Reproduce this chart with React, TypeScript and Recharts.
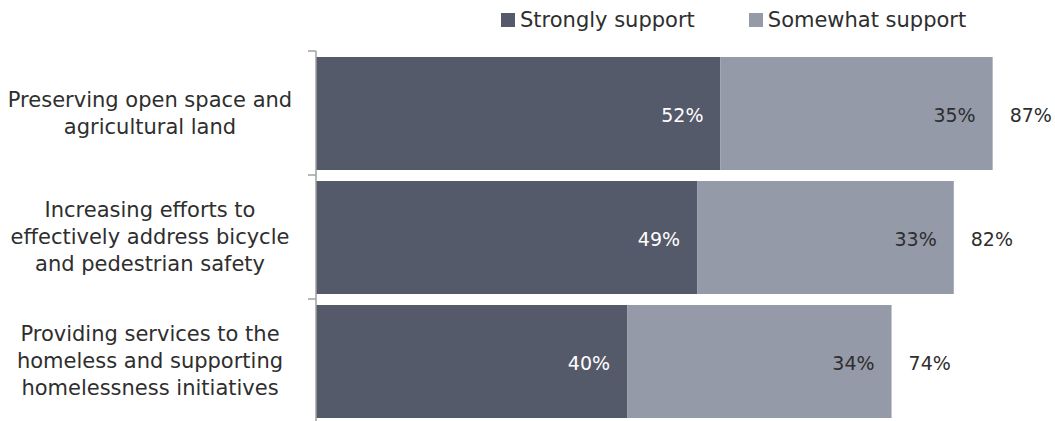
import React from "react";
import { BarChart, Bar, XAxis, YAxis, Legend, LabelList } from "recharts";

const categories = [
  "Preserving open space and\nagricultural land",
  "Increasing efforts to\neffectively address bicycle\nand pedestrian safety",
  "Providing services to the\nhomeless and supporting\nhomelessness initiatives",
];
const stronglySupport = [52, 49, 40];
const somewhatSupport = [35, 33, 34];
const totalSupport = [87, 82, 74];
const seriesNames = ["Strongly support", "Somewhat support"];

const DARK = "#555a6a";
const LIGHT = "#959aa9";
const TEXT = "#2e2e2e";
const AXIS = "#a0a0a0";
const FONT = "'DejaVu Sans', Verdana, sans-serif";
const TICK = 8;

const data = categories.map((name, i) => ({
  name,
  strong: stronglySupport[i],
  somewhat: somewhatSupport[i],
  total: totalSupport[i],
}));

const CategoryTick = (props: any) => {
  const { x, y, payload, index } = props;
  const lines = String(payload.value).split("\n");
  const lh = 27;
  const start = -((lines.length - 1) / 2) * lh;
  const half = payload.offset || 0;
  const isLast = index === categories.length - 1;
  return (
    <g>
      <line x1={x} x2={x + TICK} y1={y - half} y2={y - half} stroke={AXIS} strokeWidth={1.5} />
      {isLast && (
        <line x1={x} x2={x + TICK} y1={y + half} y2={y + half} stroke={AXIS} strokeWidth={1.5} />
      )}
      <text x={150} y={y} textAnchor="middle" fill={TEXT} fontSize={21} fontFamily={FONT}>
        {lines.map((l, i) => (
          <tspan key={i} x={150} dy={i === 0 ? start : lh} dominantBaseline="central">
            {l}
          </tspan>
        ))}
      </text>
    </g>
  );
};

const StrongLabel = (props: any) => {
  const { x, y, width, height, value } = props;
  return (
    <text
      x={x + width - 17}
      y={y + height / 2 + 1}
      textAnchor="end"
      dominantBaseline="central"
      fill="#ffffff"
      fontSize={19}
      fontFamily={FONT}
    >
      {value}%
    </text>
  );
};

const SomewhatLabel = (props: any) => {
  const { x, y, width, height, value, index } = props;
  return (
    <g>
      <text
        x={x + width - 17}
        y={y + height / 2 + 1}
        textAnchor="end"
        dominantBaseline="central"
        fill={TEXT}
        fontSize={19}
        fontFamily={FONT}
      >
        {value}%
      </text>
      <text
        x={x + width + 17}
        y={y + height / 2 + 1}
        textAnchor="start"
        dominantBaseline="central"
        fill={TEXT}
        fontSize={19}
        fontFamily={FONT}
      >
        {totalSupport[index]}%
      </text>
    </g>
  );
};

const LegendContent = () => (
  <div
    style={{
      display: "flex",
      alignItems: "center",
      paddingLeft: 501,
      fontFamily: FONT,
      fontSize: 21,
      color: TEXT,
      whiteSpace: "nowrap",
      lineHeight: "26px",
    }}
  >
    {seriesNames.map((n, i) => (
      <div key={n} style={{ display: "flex", alignItems: "center", marginRight: 54 }}>
        <span
          style={{
            display: "inline-block",
            width: 14,
            height: 14,
            background: i === 0 ? DARK : LIGHT,
            marginRight: 5,
          }}
        />
        <span>{n}</span>
      </div>
    ))}
  </div>
);

export default function App() {
  return (
    <div
      style={{
        position: "absolute",
        left: 0,
        top: 0,
        width: 1055,
        height: 421,
        overflow: "hidden",
        background: "#fff",
      }}
    >
      <BarChart
        width={1055}
        height={430}
        data={data}
        layout="vertical"
        margin={{ top: 51, right: 39, bottom: 7, left: 0 }}
      >
        <XAxis type="number" domain={[0, 90]} hide allowDataOverflow />
        <YAxis
          type="category"
          dataKey="name"
          width={316}
          axisLine={{ stroke: AXIS, strokeWidth: 1.5 }}
          tickLine={{ stroke: "transparent" }}
          tickSize={TICK}
          tickMargin={0}
          tick={<CategoryTick />}
          interval={0}
        />
        <Legend
          layout="horizontal"
          verticalAlign="middle"
          align="center"
          content={<LegendContent />}
          wrapperStyle={{ top: 7, left: 0, width: 1055 }}
        />
        <Bar dataKey="strong" stackId="a" fill={DARK} barSize={113} isAnimationActive={false}>
          <LabelList dataKey="strong" content={<StrongLabel />} />
        </Bar>
        <Bar dataKey="somewhat" stackId="a" fill={LIGHT} barSize={113} isAnimationActive={false}>
          <LabelList dataKey="somewhat" content={<SomewhatLabel />} />
        </Bar>
      </BarChart>
    </div>
  );
}
